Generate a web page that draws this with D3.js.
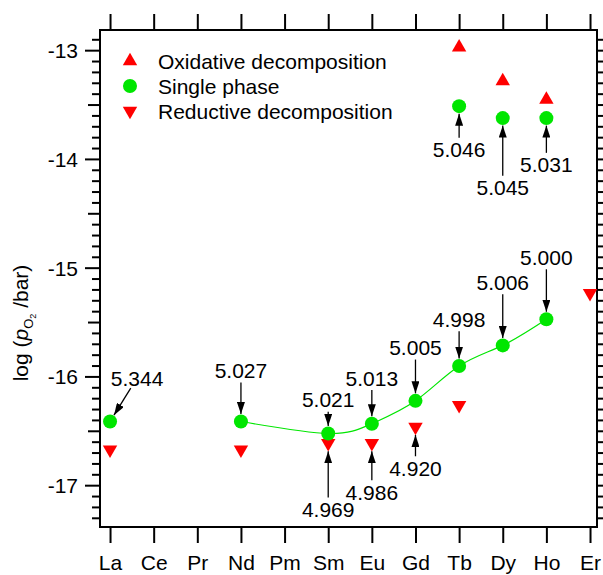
<!DOCTYPE html>
<html>
<head>
<meta charset="utf-8">
<script src="https://cdn.jsdelivr.net/npm/d3@7"></script>
<style>
  body { margin: 0; background: #fff; }
  text { font-family: "Liberation Sans", Arial, sans-serif; fill: #000; }
</style>
</head>
<body>
<div id="wrapper"></div>
<script>
// element axis
const elements = ["La", "Ce", "Pr", "Nd", "Pm", "Sm", "Eu", "Gd", "Tb", "Dy", "Ho", "Er"]
const yTicks = [-13, -14, -15, -16, -17]

// single phase (lower branch + upper branch)
const singleEls = ["La", "Nd", "Sm", "Eu", "Gd", "Tb", "Dy", "Ho"]
const singleVals = [-16.41, -16.41, -16.52, -16.43, -16.22, -15.90, -15.71, -15.47]
const singleHighEls = ["Tb", "Dy", "Ho"]
const singleHighVals = [-13.51, -13.62, -13.62]

// fitted line through the single phase points
const curveEls = ["Nd", "Sm", "Eu", "Gd", "Tb", "Dy", "Ho"]
const curveVals = [-16.41, -16.52, -16.43, -16.22, -15.90, -15.71, -15.47]

// oxidative / reductive decomposition
const oxidEls = ["Tb", "Dy", "Ho"]
const oxidVals = [-12.97, -13.28, -13.45]
const reductEls = ["La", "Nd", "Sm", "Eu", "Gd", "Tb", "Er"]
const reductVals = [-16.67, -16.67, -16.61, -16.61, -16.46, -16.26, -15.23]

// annotations: label text, element, label position (log pO2), target marker value, target kind, x shift (in element units)
const annoText = ["5.344", "5.027", "5.021", "5.013", "5.005", "4.998", "5.006", "5.000", "5.046", "5.045", "5.031", "4.969", "4.986", "4.920"]
const annoEl = ["La", "Nd", "Sm", "Eu", "Gd", "Tb", "Dy", "Ho", "Tb", "Dy", "Ho", "Sm", "Eu", "Gd"]
const annoLabelVal = [-16.01, -15.94, -16.21, -16.01, -15.73, -15.47, -15.13, -14.90, -13.91, -14.26, -14.05, -17.22, -17.06, -16.84]
const annoTargetVal = [-16.41, -16.41, -16.52, -16.43, -16.22, -15.90, -15.71, -15.47, -13.51, -13.62, -13.62, -16.61, -16.61, -16.46]
const annoKind = ["g", "g", "g", "g", "g", "g", "g", "g", "g", "g", "g", "r", "r", "r"]
const annoShift = [0.62, 0, 0, 0, 0, 0, 0, 0, 0, 0, 0, 0, 0, 0]

const legendLabels = ["Oxidative decomposition", "Single phase", "Reductive decomposition"]

const green = "#00e600"
const red = "#ff0000"
const fontSize = "21px"

const dimensions = {
  width: 603,
  height: 575,
  margin: { top: 30, right: 6, bottom: 48, left: 100 },
}
dimensions.boundedWidth = dimensions.width - dimensions.margin.left - dimensions.margin.right
dimensions.boundedHeight = dimensions.height - dimensions.margin.top - dimensions.margin.bottom

const svg = d3.select("#wrapper").append("svg")
  .attr("width", dimensions.width)
  .attr("height", dimensions.height)

const bounds = svg.append("g")
  .attr("transform", `translate(${dimensions.margin.left},${dimensions.margin.top})`)

// scales
const xScale = d3.scaleLinear()
  .domain([-0.23, 11.16])
  .range([0, dimensions.boundedWidth])
const xEl = el => xScale(elements.indexOf(el))

const yScale = d3.scaleLinear()
  .domain([-17.38, -12.81])
  .range([dimensions.boundedHeight, 0])

// axes
const minorVals = d3.range(-174, -128).map(d => d / 10).filter(v => v >= -17.38 && v <= -12.81)
const tickLen = v => Math.abs(v - Math.round(v)) < 1e-6 ? 15 : (Math.abs(v * 2 - Math.round(v * 2)) < 1e-6 ? 12 : 8)

const leftAxis = bounds.append("g")
leftAxis.selectAll("line")
  .data(minorVals)
  .join("line")
    .attr("x1", d => -tickLen(d))
    .attr("x2", 0)
    .attr("y1", d => yScale(d))
    .attr("y2", d => yScale(d))
    .attr("stroke", "#000")
    .attr("stroke-width", 2)
leftAxis.selectAll("text")
  .data(yTicks)
  .join("text")
    .attr("x", -22)
    .attr("y", d => yScale(d))
    .attr("dy", "0.36em")
    .attr("text-anchor", "end")
    .style("font-size", fontSize)
    .text(d => String(d))

const rightAxis = bounds.append("g")
  .attr("transform", `translate(${dimensions.boundedWidth},0)`)
rightAxis.selectAll("line")
  .data(minorVals)
  .join("line")
    .attr("x1", 0)
    .attr("x2", d => tickLen(d))
    .attr("y1", d => yScale(d))
    .attr("y2", d => yScale(d))
    .attr("stroke", "#000")
    .attr("stroke-width", 2)

const xAxisBottom = d3.axisBottom(xScale)
  .tickValues(d3.range(elements.length))
  .tickSize(16)
  .tickSizeOuter(0)
  .tickPadding(12)
  .tickFormat(i => elements[i])
const xAxis = bounds.append("g")
  .attr("transform", `translate(0,${dimensions.boundedHeight})`)
  .call(xAxisBottom)
xAxis.select(".domain").remove()
xAxis.selectAll("line").attr("stroke-width", 2)
xAxis.selectAll("text")
  .style("font-size", fontSize)
  .style("font-family", "Liberation Sans, Arial, sans-serif")

const xAxisTop = bounds.append("g")
  .call(d3.axisTop(xScale).tickValues(d3.range(elements.length)).tickSize(16).tickSizeOuter(0).tickFormat(""))
xAxisTop.select(".domain").remove()
xAxisTop.selectAll("line").attr("stroke-width", 2)

// frame
bounds.append("rect")
  .attr("width", dimensions.boundedWidth)
  .attr("height", dimensions.boundedHeight)
  .attr("fill", "none")
  .attr("stroke", "#000")
  .attr("stroke-width", 2)

// y label
const yLabel = svg.append("text")
  .attr("transform", `translate(28,323) rotate(-90)`)
  .attr("text-anchor", "middle")
  .style("font-size", fontSize)
yLabel.append("tspan").text("log (")
yLabel.append("tspan").style("font-style", "italic").text("p")
yLabel.append("tspan").attr("dy", 5).style("font-size", "13px").text("O")
yLabel.append("tspan").attr("dy", 3).style("font-size", "9px").text("2")
yLabel.append("tspan").attr("dy", -8).text(" /bar)")

// fitted curve
const lineGenerator = d3.line()
  .x((d, i) => xEl(curveEls[i]))
  .y(d => yScale(d))
  .curve(d3.curveNatural)
bounds.append("path")
  .attr("d", lineGenerator(curveVals))
  .attr("fill", "none")
  .attr("stroke", green)
  .attr("stroke-width", 1.2)

// markers
const triUp = d3.symbol(d3.symbolTriangle, 90)()

bounds.append("g").selectAll("path")
  .data(oxidVals)
  .join("path")
    .attr("d", triUp)
    .attr("transform", (d, i) => `translate(${xEl(oxidEls[i])},${yScale(d)})`)
    .attr("fill", red)

bounds.append("g").selectAll("path")
  .data(reductVals)
  .join("path")
    .attr("d", triUp)
    .attr("transform", (d, i) => `translate(${xEl(reductEls[i])},${yScale(d)}) rotate(180)`)
    .attr("fill", red)

bounds.append("g").selectAll("circle")
  .data(singleVals.map((v, i) => [singleEls[i], v]).concat(singleHighVals.map((v, i) => [singleHighEls[i], v])))
  .join("circle")
    .attr("cx", d => xEl(d[0]))
    .attr("cy", d => yScale(d[1]))
    .attr("r", 7)
    .attr("fill", green)

// arrows
svg.append("defs").append("marker")
  .attr("id", "arrow")
  .attr("viewBox", "0 0 12 8")
  .attr("refX", 12)
  .attr("refY", 4)
  .attr("markerWidth", 12)
  .attr("markerHeight", 8)
  .attr("markerUnits", "userSpaceOnUse")
  .attr("orient", "auto")
  .append("path")
    .attr("d", "M0,0 L12,4 L0,8 Z")
    .attr("fill", "#000")

const annos = annoText.map((t, i) => {
  const tx = xEl(annoEl[i])
  const ty = yScale(annoTargetVal[i])
  const lx = xScale(elements.indexOf(annoEl[i]) + annoShift[i])
  const ly = yScale(annoLabelVal[i])
  const dx = tx - lx, dy = ty - ly
  const len = Math.hypot(dx, dy)
  const gap = annoKind[i] === "g" ? 7.5 : 8
  return {
    t, lx, ly,
    x1: lx + dx / len * 12, y1: ly + dy / len * 12,
    x2: tx - dx / len * gap, y2: ty - dy / len * gap,
  }
})

const annoGroup = bounds.append("g")
annoGroup.selectAll("line")
  .data(annos)
  .join("line")
    .attr("x1", d => d.x1)
    .attr("y1", d => d.y1)
    .attr("x2", d => d.x2)
    .attr("y2", d => d.y2)
    .attr("stroke", "#000")
    .attr("stroke-width", 1.3)
    .attr("marker-end", "url(#arrow)")
annoGroup.selectAll("text")
  .data(annos)
  .join("text")
    .attr("x", d => d.lx)
    .attr("y", d => d.ly)
    .attr("dy", "0.36em")
    .attr("text-anchor", "middle")
    .style("font-size", fontSize)
    .text(d => d.t)

// legend
const legend = svg.append("g")
const legendRows = [61, 86, 111]
legend.selectAll("path")
  .data(legendLabels)
  .join("path")
    .attr("d", (d, i) => i === 1 ? d3.symbol(d3.symbolCircle, 154)() : triUp)
    .attr("transform", (d, i) => `translate(130,${legendRows[i]})${i === 2 ? " rotate(180)" : ""}`)
    .attr("fill", (d, i) => i === 1 ? green : red)
legend.selectAll("text")
  .data(legendLabels)
  .join("text")
    .attr("x", 158)
    .attr("y", (d, i) => legendRows[i])
    .attr("dy", "0.36em")
    .style("font-size", fontSize)
    .text(d => d)
</script>
</body>
</html>
